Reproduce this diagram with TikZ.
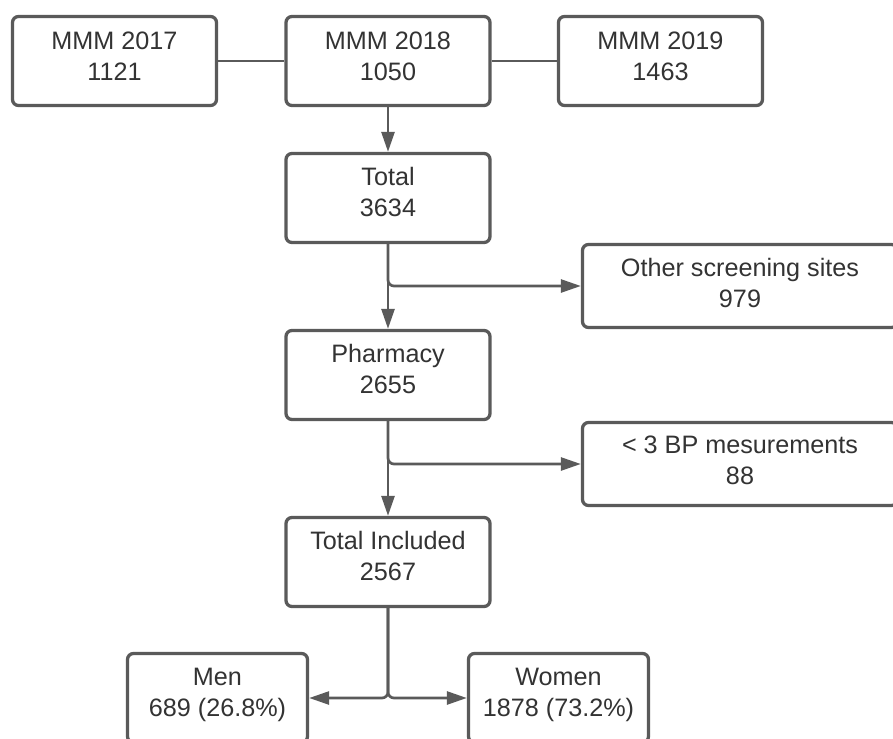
\documentclass[tikz,border=0pt]{standalone}
\usepackage{fontspec}
\setmainfont{Liberation Sans}
\usetikzlibrary{arrows.meta}
\definecolor{edge}{RGB}{90,90,90}
\definecolor{ink}{RGB}{51,51,51}
\begin{document}
\begin{tikzpicture}[x=1pt,y=-1pt,
  box/.style={draw=edge, line width=3.3pt, rounded corners=6pt, fill=white,
    minimum width=204pt, minimum height=89pt, inner sep=0pt},
  widebox/.style={box, minimum width=315pt, minimum height=83pt},
  lowbox/.style={box, minimum width=180pt},
  txt/.style={text=ink, font=\fontsize{25.2}{31}\selectfont, align=center,
    inner sep=0pt, anchor=base},
  conn/.style={draw=edge, line width=2.7pt},
  arr/.style={conn, -{Triangle[length=20pt,width=13pt]}}]
\useasboundingbox (0,0) rectangle (893,738);
\clip (0,0) rectangle (893,738);
% boxes
\node[box] (m17) at (114.5,61) {};
\node[box] (m18) at (388,61) {};
\node[box] (m19) at (660.5,61) {};
\node[box] (tot) at (388,198) {};
\node[widebox] (oth) at (740,286) {};
\node[box] (pha) at (388,375) {};
\node[widebox] (bp) at (740,464) {};
\node[box] (inc) at (388,562) {};
\node[lowbox] (men) at (217.5,698) {};
\node[lowbox] (wom) at (558.5,698) {};
% texts (base anchor = baseline of the last line)
\node[txt] (m17t) at ([yshift=-65.5pt]m17.north) {MMM 2017\\1121};
\node[txt] (m18t) at ([yshift=-65.5pt]m18.north) {MMM 2018\\1050};
\node[txt] (m19t) at ([yshift=-65.5pt]m19.north) {MMM 2019\\1463};
\node[txt] (tott) at ([yshift=-65pt]tot.north) {Total\\3634};
\node[txt] (otht) at ([yshift=-65pt]oth.north) {Other screening sites\\979};
\node[txt] (phat) at ([yshift=-65pt]pha.north) {Pharmacy\\2655};
\node[txt] (bpt) at ([yshift=-64pt]bp.north) {< 3 BP mesurements\\88};
\node[txt] (inct) at ([yshift=-65pt]inc.north) {Total Included\\2567};
\node[txt] (ment) at ([yshift=-65pt]men.north) {Men\\689 (26.8\%)};
\node[txt] (womt) at ([yshift=-65pt]wom.north) {Women\\1878 (73.2\%)};
% connectors
\draw[conn] (m17.east) -- (m18.west);
\draw[conn] (m18.east) -- (m19.west);
\draw[arr] (m18.south) -- (tot.north);
\draw[arr] (tot.south) -- (pha.north);
\draw[arr, rounded corners=6pt] (tot.south) |- (oth.west);
\draw[arr] (pha.south) -- (inc.north);
\draw[arr, rounded corners=6pt] (pha.south) |- (bp.west);
\draw[arr, rounded corners=6pt] (inc.south) |- (men.east);
\draw[arr, rounded corners=6pt] (inc.south) |- (wom.west);
\end{tikzpicture}
\end{document}
